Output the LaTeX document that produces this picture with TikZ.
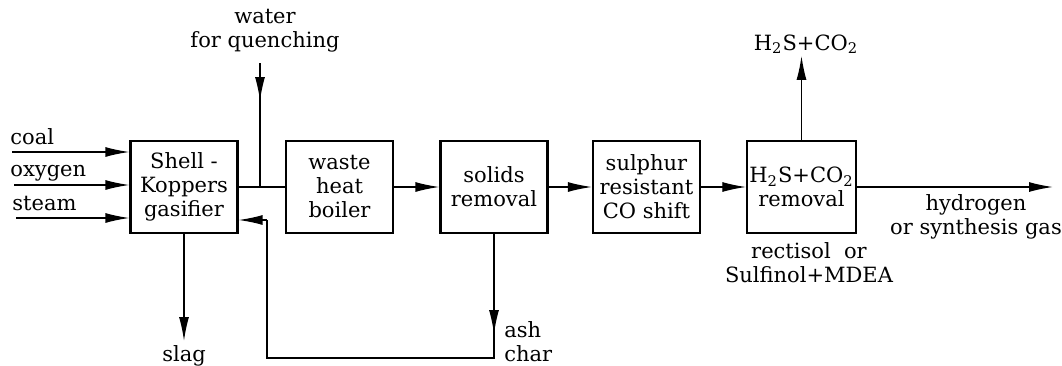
\documentclass[tikz,border=0pt]{standalone}
\usepackage{fontspec}
\setmainfont{DejaVu Serif}
\usetikzlibrary{arrows.meta}
\tikzset{
  unit/.style={draw, line width=1.1pt, minimum width=53.5pt, minimum height=46pt,
    align=center, inner sep=1pt},
  lbl/.style={align=center, inner sep=1pt},
  flow/.style={line width=0.7pt},
  tip/.style={flow, -{Latex[length=12pt,width=5pt]}},
  every node/.style={font=\fontsize{10.5}{12}\selectfont}
}
\begin{document}
\begin{tikzpicture}[x=0.5pt,y=-0.5pt]
  \useasboundingbox (0,0) rectangle (1062,365);
  % process units
  \node[unit] (gas) at (184,187) {Shell -\\Koppers\\gasifier};
  \node[unit] (boil) at (339.5,187) {waste\\heat\\boiler};
  \node[unit] (solid) at (494,187) {solids\\removal};
  \node[unit] (shift) at (646.5,187) {sulphur\\resistant\\CO shift};
  \node[unit] (acid) at (801.5,187) {H\textsubscript{2}S+CO\textsubscript{2}\\removal};
  % feeds
  \node[lbl, anchor=base west] (coal) at (8,144) {coal};
  \node[lbl, anchor=base west] (oxy) at (8,176) {oxygen};
  \node[lbl, anchor=base west] (steam) at (10,210) {steam};
  \coordinate (c1) at (12,152);
  \coordinate (c2) at (14,185);
  \coordinate (c3) at (16,218);
  \draw[tip] (c1) -- (c1 -| gas.west);
  \draw[tip] (c2) -- (c2 -| gas.west);
  \draw[tip] (c3) -- (c3 -| gas.west);
  % quench water
  \node[lbl] (water) at (265,31) {water\\for quenching};
  \coordinate (wq) at (260,63);
  \coordinate (wa) at (260,101);
  \coordinate (j1) at (260,187);
  \draw[flow] (wq) -- (j1);
  \draw[tip] (wq) -- (wa);
  % main line
  \draw[flow] (gas.east) -- (boil.west);
  \draw[tip] (boil.east) -- (solid.west);
  \draw[tip] (solid.east) -- (shift.west);
  \draw[tip] (shift.east) -- (acid.west);
  \coordinate (prod) at (1053,187);
  \draw[tip] (acid.east) -- (prod);
  \node[lbl] (h2) at (976,217) {hydrogen\\or synthesis gas};
  \node[lbl] (solv) at (809,263) {rectisol\ \ or\\Sulfinol+MDEA};
  % acid gas
  \node[lbl] (acidgas) at (806,44) {H\textsubscript{2}S+CO\textsubscript{2}};
  \draw[tip] (acid.north) -- (acid.north |- acidgas.south);
  % slag
  \node[lbl, anchor=north, inner sep=2pt] (slag) at (184,341) {slag};
  \draw[tip] (gas.south) -- (slag.north);
  % ash and char recycle
  \node[lbl, anchor=west, align=left] (ash) at (502,342) {ash\\char};
  \coordinate (a1) at (494,334);
  \coordinate (r1) at (494,358);
  \coordinate (r2) at (267,220);
  \draw[flow] (solid.south) -- (r1) -- (r1 -| r2) -- (r2);
  \draw[tip] (solid.south) -- (a1);
  \draw[tip] (r2) -- (r2 -| gas.east);
\end{tikzpicture}
\end{document}
